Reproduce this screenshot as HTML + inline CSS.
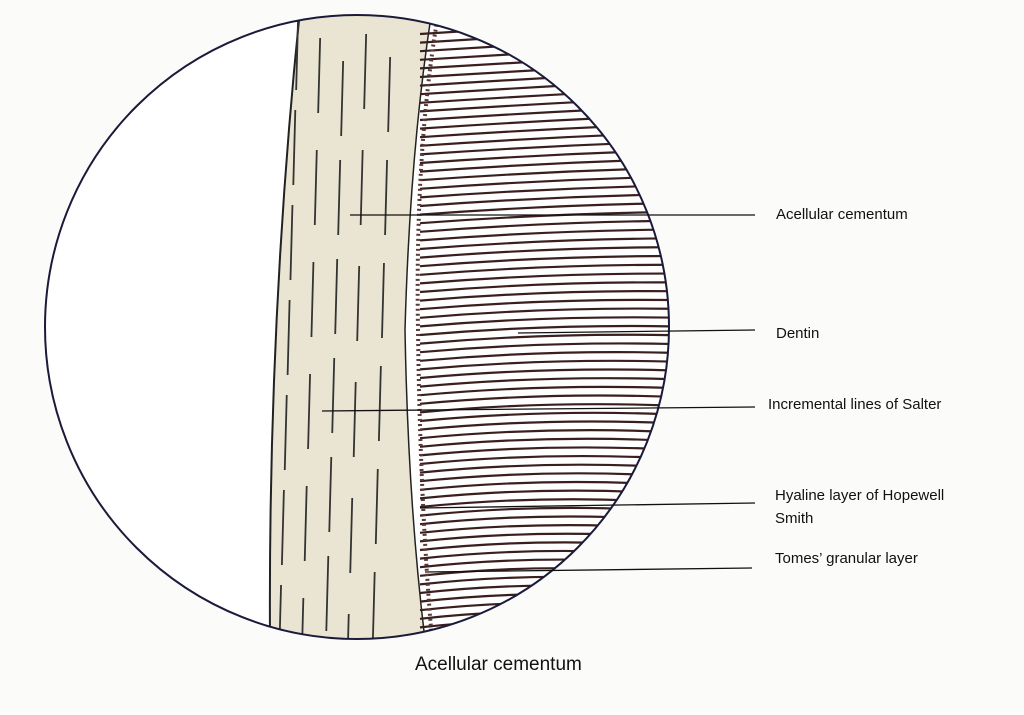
<!DOCTYPE html>
<html><head><meta charset="utf-8"><style>
body{margin:0;background:#fbfbf9;}
svg{display:block}
text{font-family:"Liberation Sans",sans-serif;fill:#111;}
</style></head><body>
<svg id="s" width="1024" height="715" viewBox="0 0 1024 715" xmlns="http://www.w3.org/2000/svg">
<defs><clipPath id="c"><circle cx="357" cy="327" r="312"/></clipPath></defs>
<rect width="1024" height="715" fill="#fbfbf9"/>
<g clip-path="url(#c)">
<rect x="0" y="0" width="1024" height="715" fill="#fff"/>
<path d="M300,10 Q268,320 270,640 L425,640 Q408,500 405,330 Q410,150 432,10 Z" fill="#e9e5d2"/>
<path d="M300,10 Q268,320 270,640" fill="none" stroke="#222" stroke-width="2"/>
<path d="M432,10 Q410,150 405,330 Q408,500 425,640" fill="none" stroke="#222" stroke-width="1.5"/>
<g id="cem" stroke="#333" stroke-width="1.8" fill="none"></g>
<g id="den" stroke="#3a1f1f" stroke-width="2.2" fill="none"></g>
<path d="M438,15 Q415,150 418,330 Q420,500 432,640" fill="none" stroke="#5a3a3a" stroke-width="4" stroke-dasharray="2 3"/>
</g>
<circle cx="357" cy="327" r="312" fill="none" stroke="#1a1a3a" stroke-width="2"/>
<g stroke="#111" stroke-width="1.3">
<line x1="350" y1="215" x2="755" y2="215"/>
<line x1="518" y1="333" x2="755" y2="330"/>
<line x1="322" y1="411" x2="755" y2="407"/>
<line x1="420" y1="508" x2="755" y2="503"/>
<line x1="425" y1="572" x2="752" y2="568"/>
</g>
<text x="776" y="219" font-size="15">Acellular cementum</text>
<text x="776" y="338" font-size="15">Dentin</text>
<text x="768" y="409" font-size="15">Incremental lines of Salter</text>
<text x="775" y="500" font-size="15">Hyaline layer of Hopewell</text>
<text x="775" y="523" font-size="15">Smith</text>
<text x="775" y="563" font-size="15">Tomes’ granular layer</text>
<text x="415" y="670" font-size="19">Acellular cementum</text>
</svg>
<script>
var ns="http://www.w3.org/2000/svg";
var den=document.getElementById("den");
for(var y=28;y<640;y+=8.6){
  var p=document.createElementNS(ns,"path");
  var x0=420, x1=700;
  var t=(y-327)/312;
  var d="M"+x0+","+(y+6)+" Q"+(560)+","+(y-6-4*t)+" "+x1+","+(y-2+10*t);
  p.setAttribute("d",d);den.appendChild(p);
}
var cem=document.getElementById("cem");
var xs=[288,310,333,356,380];
for(var i=0;i<xs.length;i++){
  for(var y=15;y<640;y+=95+((i*17)%30)){
    var l=document.createElementNS(ns,"line");
    var off=-(y-20)*0.03;
    var yy=y+(i*23)%50;
    l.setAttribute("x1",xs[i]+off+10);l.setAttribute("y1",yy);
    l.setAttribute("x2",xs[i]+off+8);l.setAttribute("y2",yy+75);
    cem.appendChild(l);
  }
}
</script>
</body></html>
